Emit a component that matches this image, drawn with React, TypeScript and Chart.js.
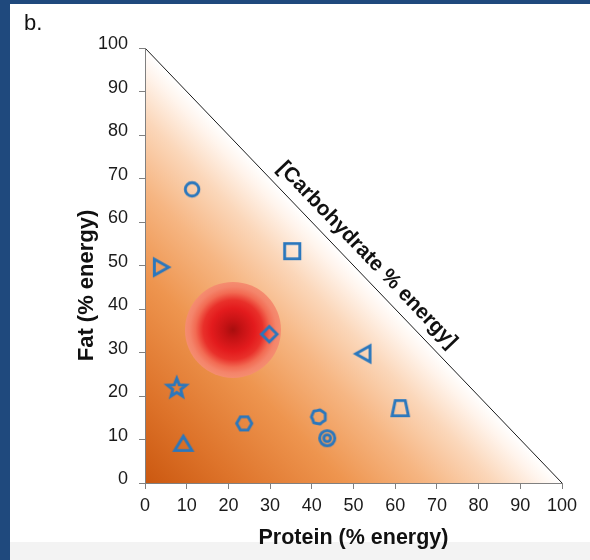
import React, { useEffect, useRef } from 'react';
import { Chart, registerables } from 'chart.js';

Chart.register(...registerables);

// ---- data ----
const proteinPct = [11.3, 3.8, 35.3, 29.8, 52.4, 7.6, 23.8, 41.6, 43.7, 61.2, 9.2];
const fatPct = [67.5, 49.6, 53.3, 34.2, 29.7, 21.8, 13.7, 15.2, 10.3, 17.2, 9.0];
const markerShapes = ['circle', 'triRight', 'square', 'diamond', 'triLeft', 'star', 'hexagon', 'blob', 'ring', 'trapezoid', 'triUp'];
const peakProtein = [21.1];
const peakFat = [35.2];
const axisMin = 0;
const axisMax = 100;
const tickStep = 10;
const xTitle = 'Protein (% energy)';
const yTitle = 'Fat (% energy)';
const carbLabel = '[Carbohydrate % energy]';
const panelLabel = 'b.';

const FONT = "'Liberation Sans', Arial, sans-serif";
const BLUE = '#2a77bd';

function makeMarker(shape: string): HTMLCanvasElement {
  const c = document.createElement('canvas');
  c.width = 30;
  c.height = 30;
  const g = c.getContext('2d') as CanvasRenderingContext2D;
  g.translate(15, 15);
  g.strokeStyle = BLUE;
  g.lineWidth = 2.9;
  g.lineJoin = 'miter';
  g.beginPath();
  switch (shape) {
    case 'circle':
      g.arc(0, 0, 6.8, 0, Math.PI * 2);
      break;
    case 'triRight':
      g.moveTo(-6.5, -8); g.lineTo(7.8, 0); g.lineTo(-6.5, 8); g.closePath();
      break;
    case 'triLeft':
      g.moveTo(6.5, -8); g.lineTo(-7.8, 0); g.lineTo(6.5, 8); g.closePath();
      break;
    case 'triUp':
      g.moveTo(-8.6, 6.6); g.lineTo(0, -7.6); g.lineTo(8.6, 6.6); g.closePath();
      break;
    case 'square':
      g.rect(-7.6, -7.6, 15.2, 15.2);
      break;
    case 'diamond':
      g.moveTo(0, -7.8); g.lineTo(7.8, 0); g.lineTo(0, 7.8); g.lineTo(-7.8, 0); g.closePath();
      break;
    case 'star': {
      for (let i = 0; i < 10; i++) {
        const a = -Math.PI / 2 + (i * Math.PI) / 5;
        const r = i % 2 === 0 ? 9.8 : 4.2;
        const px = r * Math.cos(a);
        const py = r * Math.sin(a);
        if (i === 0) g.moveTo(px, py); else g.lineTo(px, py);
      }
      g.closePath();
      break;
    }
    case 'hexagon': {
      for (let i = 0; i < 6; i++) {
        const a = (i * Math.PI) / 3;
        const px = 7.6 * Math.cos(a);
        const py = 7.6 * Math.sin(a);
        if (i === 0) g.moveTo(px, py); else g.lineTo(px, py);
      }
      g.closePath();
      break;
    }
    case 'blob': {
      g.lineJoin = 'round';
      const radii = [6.8, 7.5, 6.4, 7.2, 6.7, 7.6, 6.3, 7.1, 6.6, 7.4, 6.5, 7.2, 6.8, 7.5];
      radii.forEach((r, i) => {
        const a = (i / radii.length) * Math.PI * 2;
        const px = r * Math.cos(a);
        const py = r * Math.sin(a);
        if (i === 0) g.moveTo(px, py); else g.lineTo(px, py);
      });
      g.closePath();
      break;
    }
    case 'ring':
      g.arc(0, 0, 7.6, 0, Math.PI * 2);
      g.moveTo(3.4, 0);
      g.arc(0, 0, 3.4, 0, Math.PI * 2);
      break;
    case 'trapezoid':
      g.moveTo(-5, -7.6); g.lineTo(5, -7.6); g.lineTo(8.2, 7.6); g.lineTo(-8.2, 7.6); g.closePath();
      break;
  }
  g.stroke();
  return c;
}

const trianglePlugin = {
  id: 'ternaryBackground',
  beforeDraw(chart: any) {
    const { ctx, scales } = chart;
    const xs = scales.x;
    const ys = scales.y;
    const ox = xs.getPixelForValue(axisMin);
    const oy = ys.getPixelForValue(axisMin);
    const tx = xs.getPixelForValue(axisMin);
    const ty = ys.getPixelForValue(axisMax);
    const rx = xs.getPixelForValue(axisMax);
    const ry = ys.getPixelForValue(axisMin);
    // foot of perpendicular from origin onto hypotenuse
    const dx = rx - tx;
    const dy = ry - ty;
    const t = ((ox - tx) * dx + (oy - ty) * dy) / (dx * dx + dy * dy);
    const fx = tx + t * dx;
    const fy = ty + t * dy;
    const grad = ctx.createLinearGradient(ox, oy, fx, fy);
    grad.addColorStop(0, '#cb5810');
    grad.addColorStop(0.22, '#de742b');
    grad.addColorStop(0.48, '#ee954f');
    grad.addColorStop(0.68, '#f6b683');
    grad.addColorStop(0.84, '#fbd7ba');
    grad.addColorStop(0.95, '#fff4ec');
    grad.addColorStop(1, '#ffffff');
    ctx.save();
    ctx.beginPath();
    ctx.moveTo(ox, oy);
    ctx.lineTo(tx, ty);
    ctx.lineTo(rx, ry);
    ctx.closePath();
    ctx.fillStyle = grad;
    ctx.fill();
    ctx.beginPath();
    ctx.moveTo(tx, ty);
    ctx.lineTo(rx, ry);
    ctx.strokeStyle = '#1a1a1a';
    ctx.lineWidth = 1;
    ctx.stroke();
    ctx.restore();
  },
  afterDraw(chart: any) {
    const { ctx, scales, chartArea } = chart;
    const xs = scales.x;
    const ys = scales.y;
    const tx = xs.getPixelForValue(axisMin);
    const ty = ys.getPixelForValue(axisMax);
    const rx = xs.getPixelForValue(axisMax);
    const ry = ys.getPixelForValue(axisMin);
    const ang = Math.atan2(ry - ty, rx - tx);
    const mx = (tx + rx) / 2;
    const my = (ty + ry) / 2;
    const off = 17;
    const cx = mx + off * Math.sin(ang) + 2 * Math.cos(ang);
    const cy = my - off * Math.cos(ang) + 2 * Math.sin(ang);
    ctx.save();
    ctx.fillStyle = '#111';
    ctx.font = `bold 21px ${FONT}`;
    ctx.textAlign = 'center';
    ctx.textBaseline = 'middle';
    ctx.translate(cx, cy);
    ctx.rotate(ang);
    ctx.fillText(carbLabel, 0, 0);
    ctx.restore();

    ctx.save();
    ctx.fillStyle = '#111';
    ctx.font = `bold 22px ${FONT}`;
    ctx.textAlign = 'center';
    ctx.textBaseline = 'middle';
    ctx.translate(87, (chartArea.top + chartArea.bottom) / 2 + 20);
    ctx.rotate(-Math.PI / 2);
    ctx.fillText(yTitle, 0, 0);
    ctx.restore();

    ctx.save();
    ctx.fillStyle = '#111';
    ctx.font = `22px ${FONT}`;
    ctx.textAlign = 'left';
    ctx.textBaseline = 'alphabetic';
    ctx.fillText(panelLabel, 24, 30);
    ctx.restore();
  },
};

export default function App() {
  const ref = useRef<HTMLCanvasElement | null>(null);

  useEffect(() => {
    if (!ref.current) return;
    const markers = markerShapes.map(makeMarker);
    const points = proteinPct.map((x, i) => ({ x, y: fatPct[i] }));
    const peak = peakProtein.map((x, i) => ({ x, y: peakFat[i] }));

    const axisCommon = {
      type: 'linear' as const,
      min: axisMin,
      max: axisMax,
      grid: {
        display: true,
        drawOnChartArea: false,
        drawTicks: true,
        tickLength: 6,
        color: '#808080',
        lineWidth: 1,
      },
      border: { display: true, color: '#808080', width: 1 },
    };

    const chart = new Chart(ref.current, {
      type: 'scatter',
      data: {
        datasets: [
          {
            type: 'bubble' as any,
            data: peak,
            radius: 48,
            borderWidth: 0,
            clip: false,
            backgroundColor: (c: any) => {
              const ch = c.chart;
              const xs = ch.scales && ch.scales.x;
              const ys = ch.scales && ch.scales.y;
              if (!xs || !ys) return '#e8201f';
              const px = xs.getPixelForValue(peakProtein[0]);
              const py = ys.getPixelForValue(peakFat[0]);
              if (!Number.isFinite(px) || !Number.isFinite(py)) return '#e8201f';
              const g = ch.ctx.createRadialGradient(px, py, 0, px, py, 48);
              g.addColorStop(0, '#a80e0e');
              g.addColorStop(0.18, '#c41214');
              g.addColorStop(0.45, '#e31b1d');
              g.addColorStop(0.62, '#e9302a');
              g.addColorStop(0.78, '#f26b53');
              g.addColorStop(0.9, '#f4846a');
              g.addColorStop(1, '#f58d70');
              return g;
            },
            order: 2,
          } as any,
          {
            data: points,
            pointStyle: markers as any,
            pointRadius: 8,
            order: 1,
          },
        ],
      },
      options: {
        responsive: false,
        maintainAspectRatio: false,
        animation: false,
        events: [],
        layout: { autoPadding: false, padding: { left: 0, top: 48, right: 28, bottom: 0 } },
        plugins: {
          legend: { display: false },
          tooltip: { enabled: false },
        },
        scales: {
          x: {
            ...axisCommon,
            position: 'bottom',
            afterFit: (s: any) => {
              s.height = 77;
              s.paddingLeft = 0;
              s.paddingRight = 0;
            },
            ticks: {
              stepSize: tickStep,
              color: '#1a1a1a',
              padding: 6,
              maxRotation: 0,
              font: { family: FONT, size: 18 },
            },
            title: {
              display: true,
              text: xTitle,
              color: '#111',
              font: { family: FONT, size: 21.5, weight: 'bold' },
              padding: { top: 0, bottom: 9 },
            },
          },
          y: {
            ...axisCommon,
            position: 'left',
            afterFit: (s: any) => {
              s.width = 145;
              s.paddingTop = 0;
              s.paddingBottom = 0;
            },
            ticks: {
              stepSize: tickStep,
              color: '#1a1a1a',
              padding: 11,
              font: { family: FONT, size: 18, lineHeight: '7px' },
              callback: (v: any) => [String(v), ''],
            },
          },
        },
      } as any,
      plugins: [trianglePlugin],
    });
    chart.update();
    return () => chart.destroy();
  }, []);

  return (
    <div style={{ position: 'fixed', left: 0, top: 0, width: 590, height: 560, background: '#1f497d', overflow: 'hidden' }}>
      <div style={{ position: 'absolute', left: 10, top: 4, right: 0, bottom: 0, background: '#ffffff' }} />
      <div style={{ position: 'absolute', left: 10, top: 542, right: 0, bottom: 0, background: '#f3f3f3' }} />
      <canvas
        ref={ref}
        width={590}
        height={560}
        style={{ position: 'absolute', left: 0, top: 0, width: 590, height: 560 }}
      />
    </div>
  );
}
